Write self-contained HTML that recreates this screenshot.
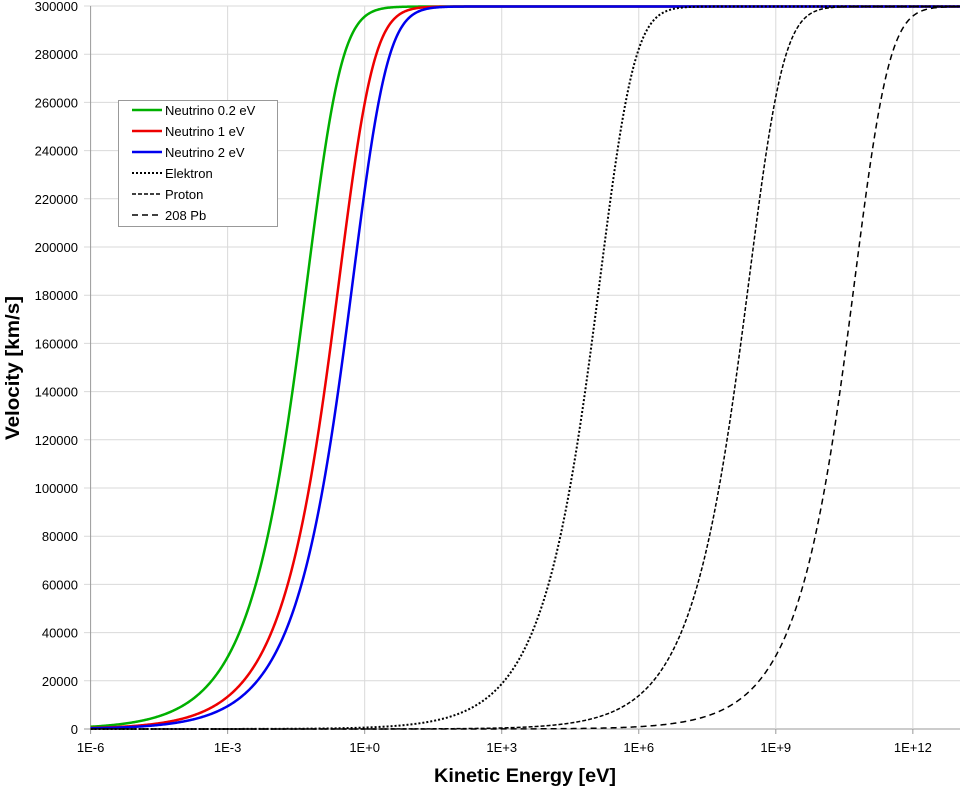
<!DOCTYPE html>
<html><head><meta charset="utf-8"><style>
html,body{margin:0;padding:0;background:#fff}
svg{display:block;font-family:"Liberation Sans",sans-serif}
</style></head><body>
<svg id="s" width="960" height="788" xmlns="http://www.w3.org/2000/svg">
<g id="grid"></g>
<g id="curves"></g>
<text x="525" y="782" text-anchor="middle" font-size="19" font-weight="bold" textLength="182" lengthAdjust="spacingAndGlyphs">Kinetic Energy [eV]</text>
<text transform="translate(19,368) rotate(-90)" text-anchor="middle" font-size="19" font-weight="bold" textLength="144" lengthAdjust="spacingAndGlyphs">Velocity [km/s]</text>
<g>
<rect x="118.5" y="100.5" width="159" height="126" fill="#fff" stroke="#999"/>
<line x1="132" y1="110" x2="162" y2="110" stroke="#00b000" stroke-width="2.5"/>
<text x="165" y="115" font-size="13">Neutrino 0.2 eV</text>
<line x1="132" y1="131" x2="162" y2="131" stroke="#ee0000" stroke-width="2.5"/>
<text x="165" y="136" font-size="13">Neutrino 1 eV</text>
<line x1="132" y1="152" x2="162" y2="152" stroke="#0000ee" stroke-width="2.5"/>
<text x="165" y="157" font-size="13">Neutrino 2 eV</text>
<line x1="132" y1="173" x2="162" y2="173" stroke="#000" stroke-width="2" stroke-dasharray="2,2"/>
<text x="165" y="178" font-size="13">Elektron</text>
<line x1="132" y1="194" x2="162" y2="194" stroke="#000" stroke-width="1.5" stroke-dasharray="4,2"/>
<text x="165" y="199" font-size="13">Proton</text>
<line x1="132" y1="215" x2="162" y2="215" stroke="#000" stroke-width="1.5" stroke-dasharray="6,4"/>
<text x="165" y="220" font-size="13">208 Pb</text>
</g>
</svg>
<script>
var X0=90.6,PD=45.68,Y0=729,YT=6;
function X(l){return X0+(l+6)*PD}
function Y(v){return Y0-(v/300000)*(Y0-YT)}
var g=document.getElementById("grid"),h="";
for(var v=0;v<=300000;v+=20000){var y=Y(v);
 h+='<line x1="84" x2="960" y1="'+y+'" y2="'+y+'" stroke="'+(v==0?'#999':'#d9d9d9')+'"/>';
 h+='<text x="78" y="'+(y+5)+'" text-anchor="end" font-size="13">'+v+'</text>';}
var labs=["1E-6","1E-3","1E+0","1E+3","1E+6","1E+9","1E+12"];
for(var i=0;i<7;i++){var x=X(-6+3*i);
 if(i>0)h+='<line x1="'+x+'" x2="'+x+'" y1="'+YT+'" y2="'+Y0+'" stroke="#d9d9d9"/>';
 h+='<line x1="'+x+'" x2="'+x+'" y1="'+Y0+'" y2="'+(Y0+5)+'" stroke="#999"/>';
 h+='<text x="'+x+'" y="'+(Y0+23)+'" text-anchor="middle" font-size="13">'+labs[i]+'</text>';}
h+='<line x1="'+X0+'" x2="'+X0+'" y1="'+YT+'" y2="'+Y0+'" stroke="#999"/>';
g.innerHTML=h;
var c=299792.458;
var S=[[0.2,"#00b000",2.5,""],[1,"#ee0000",2.5,""],[2,"#0000ee",2.5,""],
[511e3,"#000",2,"2,2"],[938.272e6,"#000",1.5,"4,2"],[193.7e9,"#000",1.5,"6,4"]];
var cv="";
S.forEach(function(s){var d="";
 for(var l=-6;l<=13.05;l+=0.02){var r=Math.pow(10,l)/s[0],gm=1+r;
  var v=c*Math.sqrt(1-1/(gm*gm));
  d+=(d?"L":"M")+X(l).toFixed(2)+","+Y(v).toFixed(2);}
 cv+='<path d="'+d+'" fill="none" stroke="'+s[1]+'" stroke-width="'+s[2]+'"'+(s[3]?' stroke-dasharray="'+s[3]+'"':'')+'/>';});
document.getElementById("curves").innerHTML=cv;
</script>
</body></html>
